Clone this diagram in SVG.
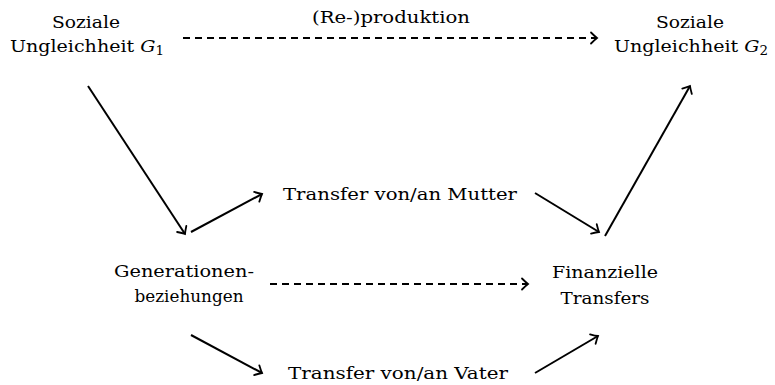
<svg xmlns="http://www.w3.org/2000/svg" width="775" height="385" viewBox="0 0 775 385" font-family="'DejaVu Serif', 'Liberation Serif', 'Times New Roman', serif">
<style>
text{font-family:'DejaVu Serif','Liberation Serif','Times New Roman',serif;font-size:17px;fill:#000;text-anchor:middle}
.e{stroke:#000;stroke-width:2;fill:none;marker-end:url(#ah)}
.d{stroke-dasharray:7,5}
</style>
<defs>
<marker id="ah" markerUnits="userSpaceOnUse" viewBox="-10 -8 12 16" markerWidth="12" markerHeight="16" refX="0" refY="0" orient="auto" overflow="visible">
<path d="M-6,-5.5 Q-2,-1.5 0,0 Q-2,1.5 -6,5.5" fill="none" stroke="#000" stroke-width="1.8" stroke-linecap="round"/>
</marker>
</defs>
<rect width="775" height="385" fill="#fff"/>
<g id="g1"><text x="86" y="28" textLength="68" lengthAdjust="spacingAndGlyphs">Soziale</text><text x="87" y="52" textLength="154" lengthAdjust="spacingAndGlyphs">Ungleichheit <tspan font-style="italic">G</tspan><tspan font-size="12" dy="3">1</tspan></text></g>
<g id="g2"><text x="690" y="28" textLength="68" lengthAdjust="spacingAndGlyphs">Soziale</text><text x="691" y="52" textLength="154" lengthAdjust="spacingAndGlyphs">Ungleichheit <tspan font-style="italic">G</tspan><tspan font-size="12" dy="3">2</tspan></text></g>
<g id="gen"><text x="184" y="277" textLength="140" lengthAdjust="spacingAndGlyphs">Generationen-</text><text x="189" y="302" textLength="109" lengthAdjust="spacingAndGlyphs">beziehungen</text></g>
<g id="mutter"><text x="400" y="200" textLength="234" lengthAdjust="spacingAndGlyphs">Transfer von/an Mutter</text></g>
<g id="vater"><text x="398" y="379" textLength="220" lengthAdjust="spacingAndGlyphs">Transfer von/an Vater</text></g>
<g id="fin"><text x="605" y="278" textLength="106" lengthAdjust="spacingAndGlyphs">Finanzielle</text><text x="605" y="304" textLength="89" lengthAdjust="spacingAndGlyphs">Transfers</text></g>
<g id="connectors">
<path class="e d" d="M183,38 L597,38"/>
<text x="391" y="23" textLength="158" lengthAdjust="spacingAndGlyphs">(Re-)produktion</text>
<path class="e" d="M88,86 L185,234"/>
<path class="e" d="M191,232 L262,194"/>
<path class="e" d="M535,193 L599,232"/>
<path class="e" d="M605,236 L690,86"/>
<path class="e d" d="M270,284 L528,284"/>
<path class="e" d="M191,335 L262,373"/>
<path class="e" d="M535,373 L598,336"/>
</g>
</svg>
